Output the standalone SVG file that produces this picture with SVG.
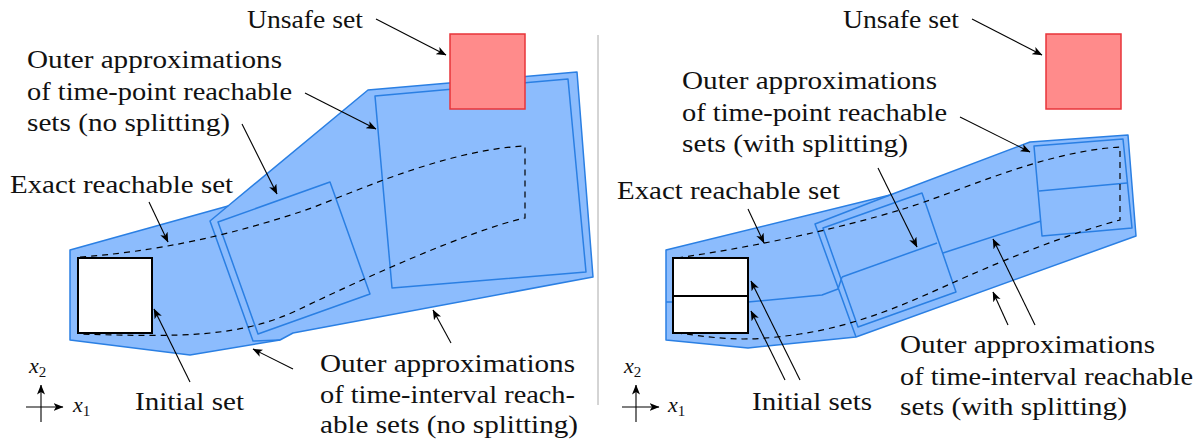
<svg xmlns="http://www.w3.org/2000/svg" width="1203" height="441" viewBox="0 0 1203 441">
<defs>
<marker id="ah" viewBox="0 0 10 10" refX="9.5" refY="5" markerWidth="10" markerHeight="10" markerUnits="userSpaceOnUse" orient="auto">
<path d="M0,1 L10,5 L0,9 L2.5,5 Z" fill="#000"/>
</marker>
<style>
.hull{fill:#8cbcfd;stroke:#2a7fe3;stroke-width:1.5;stroke-linejoin:round}
.ol{fill:none;stroke:#2a7fe3;stroke-width:1.5;stroke-linejoin:round}
.ex{fill:none;stroke:#000;stroke-width:1.2;stroke-dasharray:6,5}
.init{fill:#fff;stroke:#000;stroke-width:2}
.unsafe{fill:#ff8b8b;stroke:#e8343a;stroke-width:1.5}
.arr{fill:none;stroke:#000;stroke-width:1.1;marker-end:url(#ah)}
.ax{fill:none;stroke:#000;stroke-width:1.1;marker-end:url(#ah)}
</style>
</defs>

<g id="left-panel">
<g id="left-time-interval-sets">
<polygon class="hull" points="70,250 228,206 368,90 577,72 593,277 293,333 280,340 190,355 70,340"/>
<polyline class="ol" points="228,206 210,221 253,341 280,340"/>
</g>
<g id="left-time-point-sets">
<polygon class="ol" points="218,222 330,182 370,294 258,334"/>
<polygon class="ol" points="375,96 568,79 586,272 392,288"/>
</g>
<g id="left-exact-set">
<path class="ex" d="M80,257 C180,250 260,225 300,212 S440,150 525,146 L525,218 C470,230 360,280 300,309 S180,337 80,334"/>
</g>
<g id="left-initial-set">
<rect class="init" x="78" y="258" width="74" height="75"/>
</g>
<g id="left-unsafe-set">
<rect class="unsafe" x="450" y="34" width="75" height="75"/>
</g>
</g>

<g id="right-panel">
<g id="right-time-interval-sets">
<polygon class="hull" points="666,250 890,195 1030,142 1128,135 1136,236 856,337 748,348 666,340"/>
<polyline class="ol" points="890,195 815,224 856,337"/>
<polyline class="ol" points="666,302 748,302 822,295 838,289 842,277"/>
<polyline class="ol" points="943,253 1041,221"/>
</g>
<g id="right-time-point-sets">
<polygon class="ol" points="823,228 922,193 956,292 858,327"/>
<line class="ol" x1="842" y1="277" x2="937" y2="243"/>
<polygon class="ol" points="1034,146 1123,139 1132,228 1042,236"/>
<line class="ol" x1="1039" y1="191" x2="1127" y2="183"/>
</g>
<g id="right-exact-set">
<path class="ex" d="M677,258 C760,246 840,228 900,210 S1040,152 1120,147 L1120,220 C1060,236 990,266 950,284 S860,325 800,334 S720,338 677,333"/>
</g>
<g id="right-initial-sets">
<rect class="init" x="673" y="258" width="75" height="38"/>
<rect class="init" x="673" y="296" width="75" height="37"/>
</g>
<g id="right-unsafe-set">
<rect class="unsafe" x="1046" y="34" width="75" height="75"/>
</g>
</g>

<line id="divider" x1="598" y1="35" x2="598" y2="405" stroke="#aaaaaa" stroke-width="1"/>

<g id="connectors">
<line class="arr" x1="376" y1="19" x2="446" y2="55"/>
<line class="arr" x1="305" y1="93" x2="376" y2="129"/>
<line class="arr" x1="242" y1="124" x2="277" y2="194"/>
<line class="arr" x1="149" y1="202" x2="168" y2="242"/>
<line class="arr" x1="190" y1="382" x2="154" y2="309"/>
<line class="arr" x1="293" y1="369" x2="253" y2="349"/>
<line class="arr" x1="451" y1="343" x2="433" y2="310"/>
<line class="arr" x1="972" y1="19" x2="1042" y2="55"/>
<line class="arr" x1="960" y1="117" x2="1030" y2="152"/>
<line class="arr" x1="878" y1="168" x2="917" y2="247"/>
<line class="arr" x1="748" y1="209" x2="764" y2="243"/>
<line class="arr" x1="800" y1="380" x2="751" y2="281"/>
<line class="arr" x1="785" y1="380" x2="751" y2="311"/>
<line class="arr" x1="1035" y1="325" x2="993" y2="239"/>
<line class="arr" x1="1008" y1="325" x2="993" y2="292"/>
</g>

<g id="left-axes">
<line class="ax" x1="26" y1="407" x2="63" y2="407"/>
<line class="ax" x1="41" y1="422" x2="41" y2="385"/>
<text x="73" y="412" font-family="Liberation Serif, serif" font-size="22" font-style="italic" fill="#111">x<tspan dy="4" font-size="15" font-style="normal">1</tspan></text>
<text x="29" y="373" font-family="Liberation Serif, serif" font-size="22" font-style="italic" fill="#111">x<tspan dy="4" font-size="15" font-style="normal">2</tspan></text>
</g>
<g id="right-axes">
<line class="ax" x1="622" y1="407" x2="659" y2="407"/>
<line class="ax" x1="636" y1="422" x2="636" y2="385"/>
<text x="668" y="412" font-family="Liberation Serif, serif" font-size="22" font-style="italic" fill="#111">x<tspan dy="4" font-size="15" font-style="normal">1</tspan></text>
<text x="624" y="373" font-family="Liberation Serif, serif" font-size="22" font-style="italic" fill="#111">x<tspan dy="4" font-size="15" font-style="normal">2</tspan></text>
</g>

<g id="left-labels" fill="#111">
<text x="247" y="28" font-family="Liberation Serif, serif" font-size="25" textLength="116" lengthAdjust="spacingAndGlyphs">Unsafe set</text>
<text x="27" y="68" font-family="Liberation Serif, serif" font-size="25" textLength="255" lengthAdjust="spacingAndGlyphs">Outer approximations</text>
<text x="27" y="100" font-family="Liberation Serif, serif" font-size="25" textLength="265" lengthAdjust="spacingAndGlyphs">of time-point reachable</text>
<text x="27" y="131" font-family="Liberation Serif, serif" font-size="25" textLength="203" lengthAdjust="spacingAndGlyphs">sets (no splitting)</text>
<text x="10" y="193" font-family="Liberation Serif, serif" font-size="25" textLength="223" lengthAdjust="spacingAndGlyphs">Exact reachable set</text>
<text x="135" y="410" font-family="Liberation Serif, serif" font-size="25" textLength="109" lengthAdjust="spacingAndGlyphs">Initial set</text>
<text x="320" y="372" font-family="Liberation Serif, serif" font-size="25" textLength="255" lengthAdjust="spacingAndGlyphs">Outer approximations</text>
<text x="320" y="403" font-family="Liberation Serif, serif" font-size="25" textLength="255" lengthAdjust="spacingAndGlyphs">of time-interval reach-</text>
<text x="320" y="433" font-family="Liberation Serif, serif" font-size="25" textLength="258" lengthAdjust="spacingAndGlyphs">able sets (no splitting)</text>
</g>
<g id="right-labels" fill="#111">
<text x="843" y="28" font-family="Liberation Serif, serif" font-size="25" textLength="116" lengthAdjust="spacingAndGlyphs">Unsafe set</text>
<text x="682" y="89" font-family="Liberation Serif, serif" font-size="25" textLength="255" lengthAdjust="spacingAndGlyphs">Outer approximations</text>
<text x="682" y="121" font-family="Liberation Serif, serif" font-size="25" textLength="265" lengthAdjust="spacingAndGlyphs">of time-point reachable</text>
<text x="682" y="152" font-family="Liberation Serif, serif" font-size="25" textLength="226" lengthAdjust="spacingAndGlyphs">sets (with splitting)</text>
<text x="617" y="199" font-family="Liberation Serif, serif" font-size="25" textLength="223" lengthAdjust="spacingAndGlyphs">Exact reachable set</text>
<text x="752" y="410" font-family="Liberation Serif, serif" font-size="25" textLength="120" lengthAdjust="spacingAndGlyphs">Initial sets</text>
<text x="900" y="353" font-family="Liberation Serif, serif" font-size="25" textLength="255" lengthAdjust="spacingAndGlyphs">Outer approximations</text>
<text x="900" y="385" font-family="Liberation Serif, serif" font-size="25" textLength="293" lengthAdjust="spacingAndGlyphs">of time-interval reachable</text>
<text x="900" y="415" font-family="Liberation Serif, serif" font-size="25" textLength="227" lengthAdjust="spacingAndGlyphs">sets (with splitting)</text>
</g>
</svg>
